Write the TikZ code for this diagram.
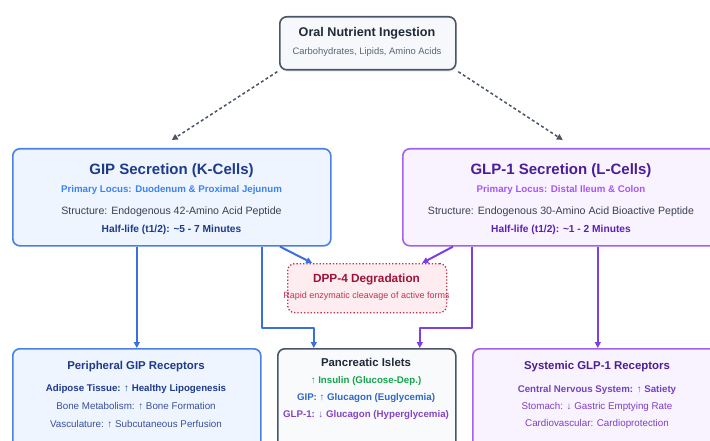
\documentclass[tikz,border=0pt]{standalone}
\usepackage{fontspec}
\setmainfont{Liberation Sans}
\usetikzlibrary{arrows.meta,shadows}

\definecolor{oralline}{HTML}{4A5568}
\definecolor{oralfill}{HTML}{F6F8FC}
\definecolor{oralhead}{HTML}{1F2937}
\definecolor{oralsub}{HTML}{5A6577}
\definecolor{gipline}{HTML}{4A80E6}
\definecolor{gipfill}{HTML}{EEF5FF}
\definecolor{gipdark}{HTML}{1E3A8A}
\definecolor{giplight}{HTML}{3B82F6}
\definecolor{gipsoft}{HTML}{3A4F9A}
\definecolor{glpline}{HTML}{A362EC}
\definecolor{glpfill}{HTML}{F9F3FF}
\definecolor{glpdark}{HTML}{4C1D95}
\definecolor{glpmid}{HTML}{5B21B6}
\definecolor{glplight}{HTML}{A855F7}
\definecolor{glpsoft}{HTML}{7E3FC2}
\definecolor{dppline}{HTML}{C0304A}
\definecolor{dppfill}{HTML}{FDEDF0}
\definecolor{dppdark}{HTML}{9F1239}
\definecolor{dppsoft}{HTML}{BE3455}
\definecolor{bodytext}{HTML}{374151}
\definecolor{isletfill}{HTML}{F8FAFC}
\definecolor{insulin}{HTML}{16A34A}
\definecolor{bluepath}{HTML}{3B6FE0}
\definecolor{purplepath}{HTML}{7B3FE4}

\begin{document}
\begin{tikzpicture}[x=1pt,y=-1pt,line join=round]
\tikzstyle{every node}=[]
\tikzstyle{box}=[rounded corners=7pt, line width=1.6pt, inner sep=0pt, anchor=north west]
\tikzstyle{txt}=[inner sep=0pt, anchor=center]
\tikzstyle{head}=[txt, font=\fontsize{11.4}{13}\selectfont\bfseries]
\tikzstyle{bigHead}=[txt, font=\fontsize{15}{18}\selectfont\bfseries]
\tikzstyle{boldLine}=[txt, font=\fontsize{9.7}{12}\selectfont\bfseries]
\tikzstyle{plainLine}=[txt, font=\fontsize{10}{12}\selectfont]
\tikzstyle{tip}=[-{Triangle[length=6pt,width=6pt]}]
\tikzstyle{dasharrow}=[tip, draw=oralline, line width=1.5pt, dash pattern=on 3pt off 2.5pt, shorten <=2pt]
\tikzstyle{bluearrow}=[tip, draw=bluepath, line width=2pt]
\tikzstyle{purplearrow}=[tip, draw=purplepath, line width=2pt]

\useasboundingbox (0,0) rectangle (710,441);
\clip (0,0) rectangle (710,441);

\node[box, draw=oralline, fill=oralfill, drop shadow={opacity=0.12, shadow xshift=1pt, shadow yshift=-2pt}, minimum width=176pt, minimum height=53pt] (oral) at (279,16) {};
\node[head, font=\fontsize{12.6}{15}\selectfont\bfseries, text=oralhead] (oralT) at (367,33) {Oral Nutrient Ingestion};
\node[plainLine, font=\fontsize{9.4}{11}\selectfont, text=oralsub] (oralS) at (367,52) {Carbohydrates, Lipids, Amino Acids};

\node[box, draw=gipline, fill=gipfill, minimum width=318pt, minimum height=97pt] (gip) at (12,148) {};
\node[bigHead, text=gipdark] (gipT) at (171.5,171) {GIP Secretion (K-Cells)};
\node[boldLine, text=giplight] (gipL) at (171.5,190) {Primary Locus: Duodenum \& Proximal Jejunum};
\node[plainLine, font=\fontsize{10.6}{12}\selectfont, text=bodytext] (gipS) at (171.5,211.5) {Structure: Endogenous 42-Amino Acid Peptide};
\node[boldLine, font=\fontsize{10.2}{12}\selectfont\bfseries, text=gipdark] (gipH) at (171.5,229.5) {Half-life (t1/2): \textasciitilde 5 - 7 Minutes};

\node[box, draw=glpline, fill=glpfill, minimum width=320pt, minimum height=97pt] (glp) at (402,148) {};
\node[bigHead, text=glpdark] (glpT) at (561,171) {GLP-1 Secretion (L-Cells)};
\node[boldLine, text=glplight] (glpL) at (561,189.5) {Primary Locus: Distal Ileum \& Colon};
\node[plainLine, font=\fontsize{10.6}{12}\selectfont, text=bodytext] (glpS) at (561,211.5) {Structure: Endogenous 30-Amino Acid Bioactive Peptide};
\node[boldLine, font=\fontsize{10.2}{12}\selectfont\bfseries, text=glpmid] (glpH) at (561,229.5) {Half-life (t1/2): \textasciitilde 1 - 2 Minutes};

\node[box, draw=dppline, fill=dppfill, line width=1.3pt, dotted, minimum width=159pt, minimum height=49pt] (dpp) at (287,263) {};
\node[head, font=\fontsize{11.8}{14}\selectfont\bfseries, text=dppdark] (dppT) at (366.5,279.5) {DPP-4 Degradation};
\node[plainLine, font=\fontsize{9}{11}\selectfont, text=dppsoft] (dppS) at (366.5,296.5) {Rapid enzymatic cleavage of active forms};

\node[box, draw=gipline, fill=gipfill, minimum width=248pt, minimum height=110pt] (periph) at (12,348) {};
\node[head, text=gipdark] (periphT) at (136,366.5) {Peripheral GIP Receptors};
\node[boldLine, text=gipdark] (periphA) at (136,389) {Adipose Tissue: ↑ Healthy Lipogenesis};
\node[plainLine, font=\fontsize{9.8}{12}\selectfont, text=gipsoft] (periphB) at (136,406.5) {Bone Metabolism: ↑ Bone Formation};
\node[plainLine, font=\fontsize{9.8}{12}\selectfont, text=gipsoft] (periphC) at (136,424) {Vasculature: ↑ Subcutaneous Perfusion};

\node[box, draw=oralline, fill=isletfill, minimum width=178pt, minimum height=110pt] (panc) at (277,348) {};
\node[head, text=oralhead] (pancT) at (366,362.5) {Pancreatic Islets};
\node[boldLine, text=insulin] (pancA) at (366,381) {↑ Insulin (Glucose-Dep.)};
\node[boldLine, text=giplight!80!black] (pancB) at (366,398.5) {GIP: ↑ Glucagon (Euglycemia)};
\node[boldLine, text=glplight!80!black] (pancC) at (366,415.5) {GLP-1: ↓ Glucagon (Hyperglycemia)};

\node[box, draw=glpline, fill=glpfill, minimum width=250pt, minimum height=110pt] (sys) at (472,348) {};
\node[head, text=glpdark] (sysT) at (597,366.5) {Systemic GLP-1 Receptors};
\node[boldLine, text=glpmid!85!white] (sysA) at (597,389.5) {Central Nervous System: ↑ Satiety};
\node[plainLine, font=\fontsize{9.8}{12}\selectfont, text=glpsoft] (sysB) at (597,406.5) {Stomach: ↓ Gastric Emptying Rate};
\node[plainLine, font=\fontsize{9.8}{12}\selectfont, text=glpsoft] (sysC) at (597,424) {Cardiovascular: Cardioprotection};

\draw[dasharrow] (oral.south west) -- ([yshift=8pt]gip.north);
\draw[dasharrow] (oral.south east) -- ([yshift=8pt]glp.north);

\draw[bluearrow] (gip.south -| periph.north) -- (periph.north);
\draw[bluearrow] (gip.south -| periph.north east) -- ++(0,81) -| ([xshift=-53pt]panc.north);
\draw[bluearrow] ([xshift=268pt]gip.south west) -- ([xshift=-55pt]dpp.north);

\draw[purplearrow] (glp.south -| sys.north) -- (sys.north);
\draw[purplearrow] (glp.south -| sys.north west) -- ++(0,81) -| ([xshift=53pt]panc.north);
\draw[purplearrow] ([xshift=51pt]glp.south west) -- ([xshift=55pt]dpp.north);
\end{tikzpicture}
\end{document}
